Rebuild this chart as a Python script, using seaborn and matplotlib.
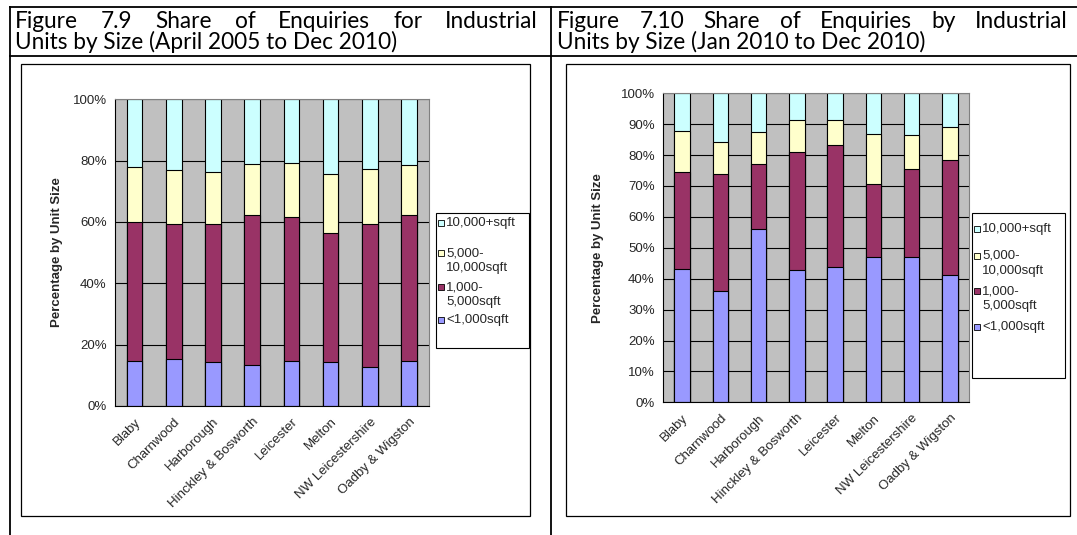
import matplotlib
matplotlib.use("Agg")
import matplotlib.pyplot as plt
import matplotlib.transforms as mtransforms
import seaborn as sns
import numpy as np
import pandas as pd
from matplotlib.patches import Rectangle
from matplotlib.lines import Line2D

# ---- data -------------------------------------------------------------
districts = ["Blaby", "Charnwood", "Harborough", "Hinckley & Bosworth",
             "Leicester", "Melton", "NW Leicestershire", "Oadby & Wigston"]
size_bands = ["<1,000sqft", "1,000-\n5,000sqft", "5,000-\n10,000sqft", "10,000+sqft"]
band_colors = ["#9999FF", "#993366", "#FFFFCC", "#CCFFFF"]

# Share of enquiries (%) by unit size, April 2005 to Dec 2010
long_under_1k = [14.8, 15.2, 14.5, 13.3, 14.8, 14.5, 12.8, 14.8]
long_1k_5k = [45.3, 44.1, 44.7, 49.1, 46.7, 41.8, 46.4, 47.6]
long_5k_10k = [17.7, 17.7, 17.1, 16.5, 17.6, 19.2, 18.2, 16.2]
long_over_10k = [22.2, 23.0, 23.7, 21.1, 20.9, 24.5, 22.6, 21.4]

# Share of enquiries (%) by unit size, Jan 2010 to Dec 2010
y2010_under_1k = [43.1, 36.0, 56.0, 42.8, 43.9, 46.9, 46.9, 41.1]
y2010_1k_5k = [31.5, 37.9, 21.0, 38.2, 39.3, 23.9, 28.5, 37.4]
y2010_5k_10k = [13.3, 10.5, 10.5, 10.5, 8.3, 15.9, 11.0, 10.5]
y2010_over_10k = [12.1, 15.6, 12.5, 8.5, 8.5, 13.3, 13.6, 11.0]

title_left = ["Figure 7.9 Share of Enquiries for Industrial",
              "Units by Size (April 2005 to Dec 2010)"]
title_right = ["Figure 7.10 Share of Enquiries by Industrial",
               "Units by Size (Jan 2010 to Dec 2010)"]
y_label = "Percentage by Unit Size"

# ---- figure set-up ----------------------------------------------------
sns.set_style("white")
plt.rcParams["font.family"] = ["Liberation Sans", "DejaVu Sans"]

W, H = 1077, 535
fig = plt.figure(figsize=(W / 100, H / 100), dpi=100)
fig.patch.set_facecolor("white")

TICK_FS = 9.5
LEGEND_FS = 9.5


def fx(x):
    return x / W


def fy(y):
    return 1 - y / H


def hline(y, x0, x1, lw=1.3, color="black"):
    fig.add_artist(Line2D([fx(x0), fx(x1)], [fy(y), fy(y)], lw=lw, color=color,
                          transform=fig.transFigure, solid_capstyle="butt"))


def vline(x, y0, y1, lw=1.3, color="black"):
    fig.add_artist(Line2D([fx(x), fx(x)], [fy(y0), fy(y1)], lw=lw, color=color,
                          transform=fig.transFigure, solid_capstyle="butt"))


# table grid around the two figures
hline(7, 9, W)
hline(56, 9, W)
vline(10, 6, H)
vline(551, 6, H)

# chart boxes
for (x0, x1) in [(21, 530), (566, 1070)]:
    fig.add_artist(Rectangle((fx(x0), fy(516)), fx(x1) - fx(x0), fy(64) - fy(516),
                             transform=fig.transFigure, fill=False,
                             edgecolor="black", lw=0.9))

renderer = fig.canvas.get_renderer()
title_family = ["Lato", "DejaVu Sans"]

# size the caption font so the second caption line has the wanted width
probe = fig.text(0, 0, title_left[1], family=title_family, fontsize=14)
probe_w = probe.get_window_extent(renderer).width
probe.remove()
title_fs = 14 * 385 / probe_w
title_font = dict(family=title_family, fontsize=title_fs, color="black")


def justified_line(words, x0, x1, y):
    texts = [fig.text(0, fy(y), w, ha="left", va="baseline", **title_font) for w in words]
    widths = [t.get_window_extent(renderer).width for t in texts]
    gap = (x1 - x0 - sum(widths)) / (len(words) - 1)
    x = x0
    for t, w in zip(texts, widths):
        t.set_x(fx(x))
        x += w + gap


def left_line(text, x0, y):
    fig.text(fx(x0), fy(y), text, ha="left", va="baseline", **title_font)


justified_line(title_left[0].split(), 15, 538, 28)
left_line(title_left[1], 15, 49)
justified_line(title_right[0].split(), 557, 1068, 28)
left_line(title_right[1], 557, 49)


# ---- panels -----------------------------------------------------------
def draw_panel(rect, shares, step):
    ax = fig.add_axes([fx(rect[0]), fy(rect[3]), fx(rect[2]) - fx(rect[0]),
                       fy(rect[1]) - fy(rect[3])])
    cum = np.cumsum(np.array(shares, dtype=float), axis=0)
    # draw the stacked bars top segment first, each cumulative bar over the last
    for i in range(len(shares) - 1, -1, -1):
        df = pd.DataFrame({"district": districts, "share": cum[i]})
        sns.barplot(data=df, x="district", y="share", order=districts,
                    color=band_colors[i], saturation=1, width=0.4,
                    edgecolor="black", linewidth=0.8, errorbar=None, ax=ax)
    ax.set_facecolor("#C0C0C0")
    ax.set_xlim(-0.5, len(districts) - 0.5)
    ax.set_ylim(0, 100)
    ticks = np.arange(0, 101, step)
    ax.set_yticks(ticks)
    ax.set_yticklabels([f"{t}%" for t in ticks], fontsize=TICK_FS)
    ax.yaxis.grid(True, color="black", lw=0.8)
    ax.set_axisbelow(True)
    ax.set_xticks(range(len(districts)))
    ax.set_xticklabels(districts, rotation=45, ha="right", rotation_mode="anchor",
                       fontsize=TICK_FS)
    shift = mtransforms.ScaledTranslation(-7 / 100, -3 / 100, fig.dpi_scale_trans)
    for lab in ax.get_xticklabels():
        lab.set_transform(lab.get_transform() + shift)
    ax.set_xticks(np.arange(-0.5, len(districts)), minor=True)
    ax.tick_params(axis="x", which="major", length=0, pad=7)
    ax.tick_params(axis="x", which="minor", length=4, width=0.8, direction="out",
                   color="black")
    ax.tick_params(axis="y", length=4, width=0.8, direction="out", color="black",
                   pad=2)
    ax.set_xlabel("")
    ax.set_ylabel("")
    for side in ["left", "bottom"]:
        ax.spines[side].set_color("black")
        ax.spines[side].set_linewidth(0.8)
    for side in ["top", "right"]:
        ax.spines[side].set_color("#808080")
        ax.spines[side].set_linewidth(0.8)
    return ax


draw_panel((115, 99.3, 428.6, 406), [long_under_1k, long_1k_5k, long_5k_10k, long_over_10k], 20)
draw_panel((663, 93.3, 969, 402.3), [y2010_under_1k, y2010_1k_5k, y2010_5k_10k, y2010_over_10k], 10)

fig.text(fx(57), fy(252), y_label, rotation=90, ha="center", va="center",
         fontsize=9.5, fontweight="bold")
fig.text(fx(598), fy(248), y_label, rotation=90, ha="center", va="center",
         fontsize=9.5, fontweight="bold")


# ---- legends ----------------------------------------------------------
def draw_legend(box, sq_x, text_x, rows):
    x0, y0, x1, y1 = box
    fig.add_artist(Rectangle((fx(x0), fy(y1)), fx(x1) - fx(x0), fy(y0) - fy(y1),
                             transform=fig.transFigure, facecolor="white",
                             edgecolor="black", lw=0.8))
    # rows: top entry first
    for band, line_ys in rows:
        idx = size_bands.index(band)
        yc = line_ys[0]
        fig.add_artist(Rectangle((fx(sq_x), fy(yc + 3)), 6 / W, 6 / H,
                                 transform=fig.transFigure,
                                 facecolor=band_colors[idx], edgecolor="black",
                                 lw=0.6))
        for line, yy in zip(band.split("\n"), line_ys):
            fig.text(fx(text_x), fy(yy), line, ha="left", va="center",
                     fontsize=LEGEND_FS)


draw_legend((436, 213, 529, 348), 438, 446,
            [("10,000+sqft", [223]),
             ("5,000-\n10,000sqft", [253, 268]),
             ("1,000-\n5,000sqft", [287, 302]),
             ("<1,000sqft", [320])])
draw_legend((972, 213, 1065, 378), 974, 982,
            [("10,000+sqft", [229]),
             ("5,000-\n10,000sqft", [256, 271]),
             ("1,000-\n5,000sqft", [291, 306]),
             ("<1,000sqft", [327])])

fig.savefig("out.png", dpi=100)
